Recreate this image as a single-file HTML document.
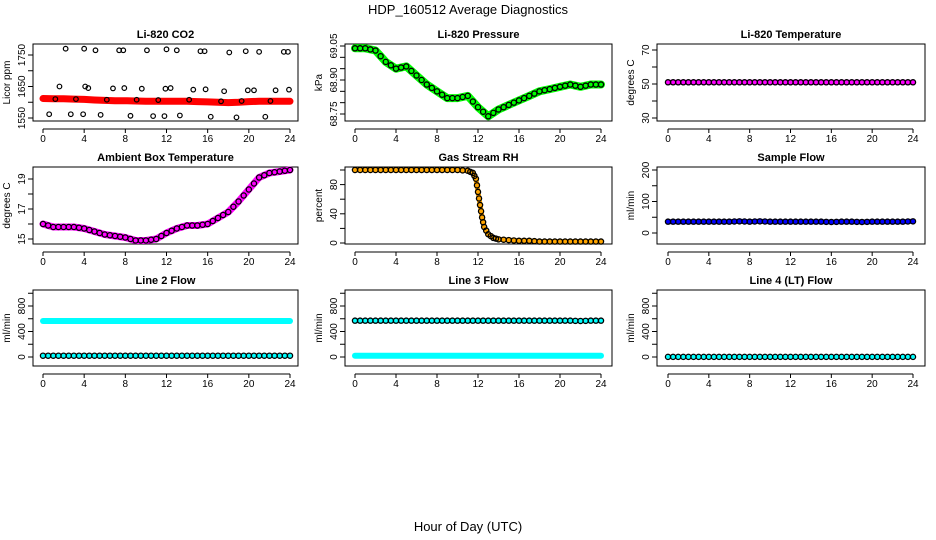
<!DOCTYPE html>
<html><head><meta charset="utf-8"><style>
body{margin:0;background:#fff}
svg{display:block;font-family:"Liberation Sans",sans-serif}
</style></head><body>
<svg id="chart" width="936" height="540" viewBox="0 0 936 540">
<text x="468" y="14" text-anchor="middle" font-size="13">HDP_160512  Average Diagnostics</text>
<text x="468" y="531" text-anchor="middle" font-size="13">Hour of Day (UTC)</text>
</svg>
<script>
// ---- data ----
const hours = [0,1,2,3,4,5,6,7,8,9,10,11,12,13,14,15,16,17,18,19,20,21,22,23,24];
const co2Red = [1612,1611,1611,1610,1609,1607,1606,1605,1605,1604,1603,1603,1603,1603,1603,1602,1601,1600,1599,1600,1602,1603,1603,1603,1603];
const co2ScatterX = [0.6,1.2,1.6,2.2,2.7,3.2,3.9,4.0,4.1,4.4,5.1,5.6,6.2,6.8,7.4,7.8,7.9,8.5,9.1,9.6,10.1,10.7,11.2,11.8,11.9,12.0,12.4,13.0,13.3,14.2,14.6,15.3,15.7,15.8,16.3,17.3,17.6,18.1,18.8,19.3,19.7,19.9,20.5,21.0,21.6,22.1,22.6,23.4,23.8,23.9];
const co2ScatterY = [1562,1610,1650,1770,1562,1610,1562,1770,1650,1645,1765,1560,1608,1644,1765,1765,1645,1557,1608,1643,1765,1556,1607,1556,1643,1768,1645,1765,1558,1608,1640,1762,1762,1641,1554,1603,1635,1758,1552,1604,1762,1638,1638,1760,1554,1604,1638,1760,1760,1640];
const pressure = [69.04,69.04,69.03,68.98,68.95,68.96,68.92,68.88,68.85,68.82,68.82,68.83,68.78,68.74,68.77,68.79,68.81,68.83,68.85,68.86,68.87,68.88,68.87,68.88,68.88];
const li820Temp = [51,51,51,51,51,51,51,51,51,51,51,51,51,51,51,51,51,51,51,51,51,51,51,51,51];
const ambient = [16.0,15.8,15.8,15.8,15.7,15.5,15.3,15.2,15.1,14.9,14.9,15.0,15.4,15.7,15.9,15.9,16.0,16.4,16.8,17.5,18.3,19.1,19.4,19.5,19.6];
const rhHours = [0,1,2,3,4,5,6,7,8,9,10,11,11.5,11.8,12,12.2,12.4,12.6,13,13.5,14,15,16,17,18,19,20,21,22,23,24];
const rh = [100,100,100,100,100,100,100,100,100,100,100,99,96,88,70,52,35,22,12,7,5,4,3,3,2,2,2,2,2,2,2];
const sampleFlow = [36,36,36,36,36,36,36,37,36,37,36,36,36,36,36,36,35,36,36,35,36,36,36,36,37];
const line2High = [565,565,565,565,565,565,565,565,565,565,565,565,565,565,565,565,565,565,565,565,565,565,565,565,565];
const line2Low = [20,20,20,20,20,20,20,20,20,20,20,20,20,20,20,20,20,20,20,20,20,20,20,20,20];
const line3High = [570,570,570,570,570,570,570,570,570,570,570,570,570,570,570,570,570,570,570,570,570,570,565,570,570];
const line3Low = [20,20,20,20,20,20,20,20,20,20,20,20,20,20,20,20,20,20,20,20,20,20,20,20,20];
const line4 = [2,2,2,2,2,2,2,2,2,2,2,2,2,2,2,2,2,2,2,2,2,2,2,2,2];
const xTicks = [0,4,8,12,16,20,24];

const NS="http://www.w3.org/2000/svg";
const svg=document.getElementById('chart');
function mk(tag,attrs,parent){const e=document.createElementNS(NS,tag);for(const k in attrs)e.setAttribute(k,attrs[k]);(parent||svg).appendChild(e);return e;}

const cols=[{l:33,r:298,x0:43,x24:290},{l:345,r:612,x0:355,x24:601},{l:657,r:925,x0:668,x24:913}];
const rows=[{t:44,b:121},{t:167,b:244},{t:290,b:366}];

function panel(ci,ri,title,ylab,v1,p1,v2,p2,ticks,labels,name){
  const c=cols[ci],r=rows[ri];
  const g=mk('g',{});
  
  
  const xs=v=>c.x0+(c.x24-c.x0)*v/24;
  const ys=v=>p1+(p2-p1)*(v-v1)/(v2-v1);
  const t=mk('text',{x:(c.l+c.r)/2,y:r.t-6,'text-anchor':'middle','font-size':11,'font-weight':'bold'},g);
  t.textContent=title;
  
  
  const yl=mk('text',{x:0,y:0,'text-anchor':'middle','font-size':10,transform:`translate(${c.l-23},${(r.t+r.b)/2}) rotate(-90)`},g);
  yl.textContent=ylab;
  
  
  // x axis
  const xb=r.b;
  mk('line',{x1:xs(0),x2:xs(24),y1:xb+8,y2:xb+8,stroke:'#000'},g);
  xTicks.forEach(v=>{
    mk('line',{x1:xs(v),x2:xs(v),y1:xb+8,y2:xb+12,stroke:'#000'},g);
    const tl=mk('text',{x:xs(v),y:xb+21,'text-anchor':'middle','font-size':10},g);
    tl.textContent=v;
    
    
  });
  // y axis
  mk('line',{x1:c.l,x2:c.l,y1:ys(ticks[0]),y2:ys(ticks[ticks.length-1]),stroke:'#000'},g);
  ticks.forEach(v=>{
    mk('line',{x1:c.l-5,x2:c.l,y1:ys(v),y2:ys(v),stroke:'#000'},g);
  });
  labels.forEach(v=>{
    const tl=mk('text',{x:0,y:0,'text-anchor':'middle','font-size':10,transform:`translate(${c.l-8},${ys(v)}) rotate(-90)`},g);
    tl.textContent=(typeof v==='number'&&v%1!==0)?v.toFixed(2):v;
    
    
  });
  mk('rect',{x:c.l,y:r.t,width:c.r-c.l,height:r.b-r.t,fill:'none',stroke:'#000'},g);
  return {g,xs,ys,name};
}
function series(P,xsArr,ysArr,halo,hw,circ,name){
  const pts=xsArr.map((x,i)=>P.xs(x).toFixed(1)+','+P.ys(ysArr[i]).toFixed(1)).join(' ');
  if(halo){
    const pl=mk('polyline',{points:pts,fill:'none',stroke:halo,'stroke-width':hw,'stroke-linejoin':'round','stroke-linecap':'round'},P.g);
    
    
  }
  if(circ){
    xsArr.forEach((x,i)=>{
      const c=mk('circle',{cx:P.xs(x),cy:P.ys(ysArr[i]),r:2.6,fill:'none',stroke:circ,'stroke-width':1.3},P.g);
      
      
    });
    // half-hour midpoints between points for density
    for(let i=0;i<xsArr.length-1;i++){
      const c=mk('circle',{cx:(P.xs(xsArr[i])+P.xs(xsArr[i+1]))/2,cy:(P.ys(ysArr[i])+P.ys(ysArr[i+1]))/2,r:2.6,fill:'none',stroke:circ,'stroke-width':1.3},P.g);
      
      
    }
  }
}

// CO2
let P=panel(0,0,'Li-820 CO2','Licor ppm',1750,55,1550,118,[1550,1600,1650,1700,1750],[1550,1650,1750],'co2');
series(P,hours,co2Red,'#f00',7,null,'co2-red');
co2ScatterX.forEach((x,i)=>{
  const c=mk('circle',{cx:P.xs(x),cy:P.ys(co2ScatterY[i]),r:2.3,fill:'none',stroke:'#000','stroke-width':1.2},P.g);
  
  
});
// Pressure
P=panel(1,0,'Li-820 Pressure','kPa',69.05,46,68.75,114,[68.75,68.80,68.85,68.90,68.95,69.00,69.05],[68.75,68.90,69.05],'pressure');
series(P,hours,pressure,'#0f0',8,'#000','pressure');
// Temperature
P=panel(2,0,'Li-820 Temperature','degrees C',70,50,30,118,[30,40,50,60,70],[30,50,70],'li820-temp');
series(P,hours,li820Temp,'#f0f',5,'#000','li820-temp');
// Ambient
P=panel(0,1,'Ambient Box Temperature','degrees C',19,179,15,239,[15,16,17,18,19],[15,17,19],'ambient');
series(P,hours,ambient,'#f0f',7,'#000','ambient');
// RH
P=panel(1,1,'Gas Stream RH','percent',100,170,0,243,[0,20,40,60,80,100],[0,40,80],'rh');
series(P,rhHours,rh,'#ffa500',5,'#000','rh');
// Sample flow
P=panel(2,1,'Sample Flow','ml/min',200,170,0,233,[0,50,100,150,200],[0,100,200],'sample-flow');
series(P,hours,sampleFlow,'#00f',5,'#000','sample-flow');
// Line 2
P=panel(0,2,'Line 2 Flow','ml/min',800,306,0,357,[0,200,400,600,800,1000],[0,400,800],'line2');
series(P,hours,line2High,'#0ff',6,null,'line2-high');
series(P,hours,line2Low,'#0ff',4,'#000','line2-low');
// Line 3
P=panel(1,2,'Line 3 Flow','ml/min',800,306,0,357,[0,200,400,600,800,1000],[0,400,800],'line3');
series(P,hours,line3Low,'#0ff',6,null,'line3-low');
series(P,hours,line3High,'#0ff',5,'#000','line3-high');
// Line 4
P=panel(2,2,'Line 4 (LT) Flow','ml/min',800,306,0,357,[0,200,400,600,800,1000],[0,400,800],'line4');
series(P,hours,line4,'#0ff',4,'#000','line4');
</script>
</body></html>
